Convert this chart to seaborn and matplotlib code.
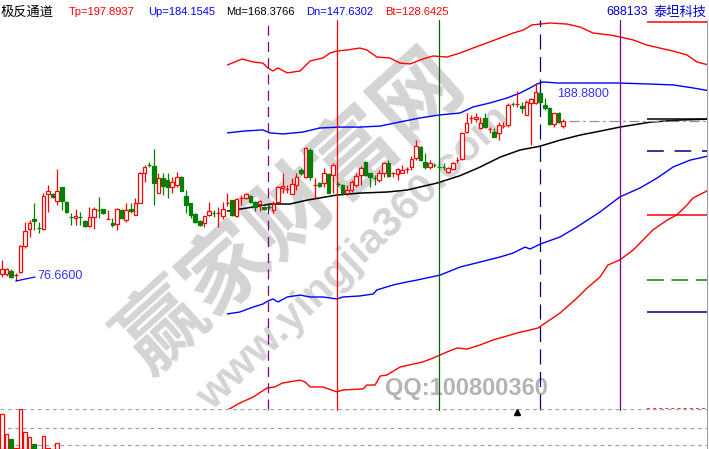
import matplotlib
matplotlib.use("Agg")
import matplotlib.pyplot as plt
import seaborn as sns
import numpy as np

# daily candles (price)
opens = [80.6, 80.6, 82.3, 80.1, 81.8, 96.5, 106.1, 111.8, 106.8, 106.1,
         126.0, 126.0, 122.0, 130.0, 121.4, 113.0, 112.4, 113.0, 110.7, 107.8,
         112.9, 117.0, 117.5, 111.8, 109.5, 109.0, 116.9, 111.2, 117.5, 114.1,
         120.9, 137.9, 142.5, 141.9, 126.6, 135.1, 133.9, 130.0, 131.1, 135.6,
         124.8, 120.9, 114.6, 110.7, 109.5, 114.1, 115.3, 115.2, 113.5, 120.9,
         122.6, 113.5, 123.7, 123.7, 124.8, 121.4, 120.3, 118.6, 118.7, 116.9,
         121.4, 129.4, 128.8, 126.0, 131.1, 139.6, 135.6, 150.9, 131.1, 132.2,
         132.2, 137.3, 136.8, 131.7, 131.1, 126.6, 128.2, 131.1, 136.8, 144.1,
         137.9, 135.1, 133.9, 137.9, 143.6, 137.9, 137.3, 137.9, 140.2, 141.3,
         146.4, 152.6, 144.1, 141.3, 142.5, 141.4, 141.4, 138.5, 140.2, 145.3,
         145.8, 161.1, 169.1, 168.5, 163.4, 169.1, 162.8, 161.1, 160.6, 164.5,
         165.1, 177.1, 177.0, 175.9, 170.8, 177.6, 177.6, 183.2, 176.4, 174.7,
         165.7, 171.9, 164.5]
closes = [83.5, 83.5, 78.9, 80.1, 96.5, 105.0, 109.5, 110.7, 106.7, 124.8,
          127.7, 124.3, 127.7, 122.0, 115.8, 112.9, 113.5, 112.9, 107.8, 112.9,
          117.5, 116.9, 115.2, 111.8, 108.4, 117.5, 112.4, 116.9, 116.3, 120.9,
          137.9, 141.3, 142.4, 132.2, 135.1, 130.5, 130.0, 132.8, 135.6, 127.7,
          119.7, 114.1, 110.1, 108.4, 113.5, 116.3, 115.2, 115.2, 117.5, 120.9,
          114.1, 123.1, 123.7, 126.0, 121.4, 118.6, 122.0, 117.5, 118.6, 120.3,
          130.0, 130.5, 128.8, 131.7, 135.6, 137.9, 152.1, 135.6, 131.1, 130.5,
          137.9, 126.6, 142.4, 131.6, 126.6, 128.2, 132.8, 136.2, 140.7, 136.8,
          135.6, 135.0, 137.9, 143.6, 136.2, 137.9, 140.2, 139.6, 140.2, 145.8,
          153.2, 145.3, 141.3, 143.6, 142.4, 141.3, 141.3, 140.7, 143.6, 145.3,
          160.6, 166.2, 169.1, 169.6, 166.2, 164.0, 162.8, 158.3, 165.1, 164.5,
          176.4, 177.0, 177.0, 174.7, 178.1, 179.8, 183.8, 178.1, 174.7, 165.7,
          171.9, 166.8, 167.4]
highs = [88.6, 84.0, 83.5, 81.2, 97.1, 110.1, 111.2, 120.9, 110.1, 126.6,
         131.1, 126.6, 140.2, 130.0, 122.0, 115.2, 117.5, 115.8, 111.2, 118.6,
         118.6, 124.3, 117.5, 116.9, 112.4, 118.0, 117.5, 120.9, 120.9, 123.7,
         138.5, 142.4, 144.1, 151.5, 137.9, 137.9, 137.9, 135.6, 138.5, 136.2,
         128.2, 120.9, 115.2, 111.2, 113.5, 121.4, 116.9, 118.6, 121.4, 126.6,
         122.6, 123.7, 125.4, 126.6, 125.4, 122.0, 122.6, 119.2, 119.7, 122.0,
         130.5, 137.9, 131.1, 135.1, 137.9, 140.7, 152.6, 152.1, 135.1, 132.8,
         140.7, 137.9, 143.6, 132.8, 131.7, 131.1, 133.9, 137.9, 141.9, 144.7,
         137.9, 136.8, 139.6, 144.1, 145.3, 138.5, 140.7, 142.4, 141.3, 147.5,
         156.6, 153.2, 149.2, 145.3, 143.6, 141.9, 143.6, 141.3, 144.1, 147.0,
         161.1, 171.9, 170.8, 171.9, 169.6, 171.9, 164.0, 163.4, 166.8, 166.8,
         177.6, 178.1, 184.4, 178.1, 179.3, 180.4, 188.88, 183.8, 180.4, 175.3,
         171.9, 172.5, 168.5]
lows = [78.9, 79.5, 78.4, 76.66, 81.2, 95.4, 101.6, 105.6, 103.9, 105.6,
        115.8, 123.7, 119.7, 116.9, 115.2, 108.4, 108.4, 108.4, 107.3, 107.3,
        106.1, 112.4, 114.6, 111.8, 107.3, 105.6, 111.8, 110.1, 115.2, 114.1,
        120.9, 132.8, 141.3, 119.7, 126.6, 125.4, 123.7, 126.6, 130.0, 127.7,
        115.2, 112.4, 109.5, 107.8, 107.3, 113.5, 112.9, 107.3, 111.8, 119.2,
        113.5, 112.9, 119.7, 123.1, 120.9, 116.3, 116.3, 116.9, 117.5, 115.2,
        121.4, 126.6, 126.6, 126.0, 128.2, 136.8, 135.1, 133.9, 123.7, 130.0,
        130.0, 126.6, 126.6, 130.5, 125.4, 125.4, 127.1, 130.0, 131.1, 136.2,
        130.0, 131.1, 132.8, 135.6, 135.6, 135.6, 133.9, 137.9, 137.9, 139.6,
        145.3, 144.7, 140.2, 140.2, 141.3, 140.7, 139.6, 137.9, 139.6, 143.6,
        145.3, 160.6, 166.2, 166.8, 162.8, 163.4, 160.6, 158.3, 156.6, 163.4,
        164.0, 175.9, 175.3, 171.9, 170.8, 153.8, 177.0, 177.6, 173.6, 165.1,
        164.0, 166.2, 163.4]

# volume of the first days (the rest is below the visible strip)
volumes = [35, 15, 10, 1, 40, 17, 12, 5, 0, 13, 1, 0, 6]

# channel lines: day index -> price
tp_x = [49, 52.2, 54.6, 56.7, 57.8, 58.9, 60, 62, 64.8, 67, 69.8, 71.3, 72.8, 75, 77.8,
        79.3, 81.5, 84.3, 86.5, 88.7, 91.5, 93.7, 96.7, 99.6, 102.4, 105.4, 108.3,
        111.1, 113.3, 115.2, 119.1, 122.8, 125.7, 128.5, 132.2, 134.3, 137.2, 140.2,
        143, 145.9, 148.9, 151.1, 153.7]
tp_y = [199.1, 202.5, 200.8, 200.2, 197.4, 195.7, 197.4, 194.6, 195.7, 201.4, 203.1,
        205.9, 207.0, 207.6, 208.7, 207.6, 203.6, 203.1, 200.2, 199.7, 202.5, 204.2,
        203.6, 205.9, 208.7, 211.6, 214.4, 217.2, 218.9, 221.8, 222.9, 222.3, 220.6,
        217.2, 216.1, 215.0, 213.3, 210.4, 208.7, 207.0, 204.8, 200.8, 199.0]
up_x = [49, 52.8, 56.7, 58.3, 61.1, 65.4, 69.1, 73.5, 77.8, 82.2, 86.5, 90.9, 95.2,
        99.6, 102.4, 106.1, 109.8, 112.6, 114.8, 116.3, 117.6, 120.7, 126.3, 133.7,
        140.9, 145.9, 150.2, 153.7]
up_y = [160.6, 161.7, 162.3, 160.6, 160.0, 161.1, 163.4, 163.9, 163.9, 164.5, 166.8,
        169.1, 170.8, 171.9, 175.3, 177.6, 180.4, 183.2, 186.1, 188.3, 189.5, 188.9,
        188.9, 188.9, 188.3, 187.8, 186.1, 184.5]
md_x = [49, 54.6, 58.3, 62.6, 66.3, 72.8, 77.8, 83.7, 88, 94.6, 99.6, 103.9, 108.3,
        112.6, 117, 121.3, 125.7, 130, 134.3, 140.9, 147.4, 153.7]
md_y = [116.3, 118.6, 120.3, 120.3, 122.5, 125.4, 126.5, 127.1, 128.2, 132.2, 136.4,
        141.2, 146.9, 150.9, 153.1, 156.5, 159.4, 161.6, 163.9, 166.7, 167.9, 168.4]
dn_x = [49, 51.7, 54.6, 56.7, 57.8, 58.9, 60, 62, 64.8, 67, 69.8, 72.8, 74.1, 77.8,
        80.7, 81.5, 85, 88, 90.2, 95.2, 99.6, 103.9, 108.3, 111.1, 113.7, 114.8, 117,
        121.3, 125, 130, 134.3, 138.7, 142.4, 145.9, 149.6, 153.7]
dn_y = [58.0, 59.1, 61.9, 63.6, 65.3, 66.5, 64.8, 67.6, 68.7, 67.6, 67.6, 66.5, 67.6,
        68.2, 69.3, 71.6, 74.4, 76.1, 77.2, 80.0, 84.6, 87.4, 90.3, 92.5, 95.9, 94.8,
        97.6, 101.6, 107.3, 115.8, 124.3, 129.4, 135.0, 141.3, 145.2, 147.6]
bt_x = [49, 51.7, 54.6, 57.6, 59.3, 60.9, 64.8, 65.9, 67, 69.8, 72.8, 74.1, 78.5, 79.3,
        81.1, 82.2, 83.7, 86.5, 91.5, 93.7, 96.7, 98.9, 101.1, 103.9, 106.7, 109.8,
        112, 116.5, 121.3, 125, 127.2, 130, 131.7, 134.3, 137.2, 141.5, 144.6, 146.7,
        148.9, 150.2, 152.8, 153.7]
bt_y = [3.5, 7.5, 10.9, 16.0, 16.6, 18.8, 20.5, 19.4, 16.6, 16.6, 13.8, 14.9, 15.5,
        17.7, 17.7, 22.8, 23.4, 27.9, 30.8, 33.0, 36.4, 38.7, 38.1, 40.4, 43.2, 45.5,
        47.2, 50.0, 58.5, 67.0, 72.7, 78.9, 85.7, 88.6, 94.2, 105.6, 111.2, 114.1,
        119.7, 123.7, 127.1, 128.6]

# header values
tp_now, up_now, md_now, dn_now, bt_now = 197.8937, 184.1545, 168.3766, 147.6302, 128.6425
stock_code, stock_name = "688133", "泰坦科技"

# cycle lines (day index) and right-hand level lines
cycle_days = [57.8, 72.8, 95, 117, 134.3]
level_day = 140.2
level_prices = [223.5, 168.5, 150.3, 114.1, 77.2, 59.1, 4.1]

RED = "#ff0000"
GREEN = "#008000"
BLUE = "#0000ff"
NAVY = "#000080"
PURPLE = "#800080"
CJK = ["Noto Sans CJK SC", "DejaVu Sans"]
LAT = ["Liberation Sans", "DejaVu Sans"]

sns.set_style("white")
plt.rcParams["font.family"] = ["DejaVu Sans", "Noto Sans CJK SC"]

W, H = 709, 449
fig = plt.figure(figsize=(W / 100, H / 100), dpi=100)
ax = fig.add_axes([0, 40 / H, 707 / W, 389 / H])
vax = fig.add_axes([0, 0, 707 / W, 40 / H])
XL = (-0.435, 153.26)

for a in (ax, vax):
    a.set_xlim(*XL)
    a.set_xticks([])
    a.set_yticks([])
    for s in a.spines.values():
        s.set_visible(False)
    a.spines["right"].set_visible(True)
    a.spines["right"].set_color("#a0a0a0")
    a.spines["right"].set_linewidth(0.8)
ax.set_ylim(4.12, 224.6)
vax.set_ylim(0, 40)
vax.patch.set_alpha(0)

# watermark (behind everything)
wm = dict(transform=fig.transFigure, ha="center", va="center", rotation_mode="anchor",
          clip_on=False, zorder=0.2)
ax.text(292 / W, 1 - 212 / H, "赢家财富网", rotation=42, fontsize=62, fontweight="bold",
        color="#d4d4d4", family=CJK, **wm)
ax.text(355 / W, 1 - 258 / H, "www.yingjia360.com", rotation=44, fontsize=31,
        fontweight="bold", color="#d4d4d4", family=LAT, **wm)
ax.text(466 / W, 1 - 388 / H, "QQ:100800360", rotation=0, fontsize=17, fontweight="bold",
        color="#b4b4b4", family=LAT, **wm)

# channel lines
lw = 1.0
sns.lineplot(x=tp_x, y=tp_y, ax=ax, color=RED, lw=lw, sort=False, zorder=2)
sns.lineplot(x=up_x, y=up_y, ax=ax, color=BLUE, lw=lw, sort=False, zorder=2)
sns.lineplot(x=md_x, y=md_y, ax=ax, color="black", lw=1.1, sort=False, zorder=2)
sns.lineplot(x=dn_x, y=dn_y, ax=ax, color=BLUE, lw=lw, sort=False, zorder=2)
sns.lineplot(x=bt_x, y=bt_y, ax=ax, color=RED, lw=lw, sort=False, zorder=2)

# cycle lines
cyc_style = [(PURPLE, (0, (8, 5))), (RED, "-"), ("#006400", "-"), (NAVY, (0, (12, 6))),
             (PURPLE, "-")]
for d, (col, ls) in zip(cycle_days, cyc_style):
    ax.axvline(d, color=col, lw=0.9, ls=ls, zorder=2.5)
    vax.axvline(d, ymin=0.97, color=col, lw=0.9, ls=ls)

# level lines at the right
lvl_style = [(RED, "-"), ("black", "-"), (NAVY, (0, (11, 7))), (RED, "-"),
             (GREEN, (0, (11, 5))), (NAVY, "-"), (RED, (0, (2, 2)))]
for p, (col, ls) in zip(level_prices, lvl_style):
    ax.hlines(p, level_day, XL[1], color=col, lw=1.1, ls=ls, zorder=2.5)

# candles
o, c = np.array(opens), np.array(closes)
h, l = np.array(highs), np.array(lows)
days = np.arange(len(o))
up = c >= o
cols = np.where(up, RED, GREEN)
ax.vlines(days, l, h, colors=cols, lw=0.9, zorder=3)
ax.bar(days, np.abs(c - o), bottom=np.minimum(o, c), width=0.8,
       color=np.where(up, "white", GREEN), edgecolor=cols, linewidth=0.9, zorder=4)

# last close dash-dot
ax.hlines(c[-1], len(c) + 0.3, XL[1], color="#909090", lw=0.9, ls=(0, (8, 3, 2, 3)),
          zorder=2.4)

# high / low markers
i_lo, i_hi = int(np.argmin(l)), int(np.argmax(h))
ax.plot([i_lo, i_lo + 4.2], [l[i_lo], l[i_lo] + 2.3], color=BLUE, lw=0.9, zorder=5)
ax.text(i_lo + 4.6, l[i_lo] + 2.8, f"{l[i_lo]:.4f}", color="#3333ff", fontsize=9,
        family=LAT, va="center", ha="left", zorder=5)
ax.text(i_hi + 4.6, h[i_hi] - 6.2, f"{h[i_hi]:.4f}", color="#3333ff", fontsize=9,
        family=LAT, va="center", ha="left", zorder=5)

# volume strip
vdays = np.arange(len(volumes))
vup = up[:len(volumes)]
vax.bar(vdays, volumes, width=0.8, color=np.where(vup, "white", GREEN),
        edgecolor=np.where(vup, RED, GREEN), linewidth=0.9, zorder=3)
for g in (40, 21, 4):
    vax.axhline(g, color="#a0a0a0", lw=0.9, ls=(0, (3, 3)), zorder=1)
vax.plot([112], [37.2], marker="^", color="black", ms=5, zorder=4)

# header
hy = 1 - 12 / H
fig.text(1 / W, hy, "极反通道", family=CJK, fontsize=9.5, color="black", va="center")
hdr = [(69, f"Tp={tp_now:.4f}", RED), (148, f"Up={up_now:.4f}", BLUE),
       (226, f"Md={md_now:.4f}", "black"), (306, f"Dn={dn_now:.4f}", BLUE),
       (385, f"Bt={bt_now:.4f}", RED)]
for x, s, col in hdr:
    fig.text(x / W, hy, s, family=LAT, fontsize=8, color=col, va="center")
fig.text(606 / W, hy, stock_code, family=LAT, fontsize=9, color="#0000cc", va="center")
fig.text(654 / W, hy, stock_name, family=CJK, fontsize=9.5, color="#0000cc", va="center")

fig.savefig("out.png", dpi=100)
